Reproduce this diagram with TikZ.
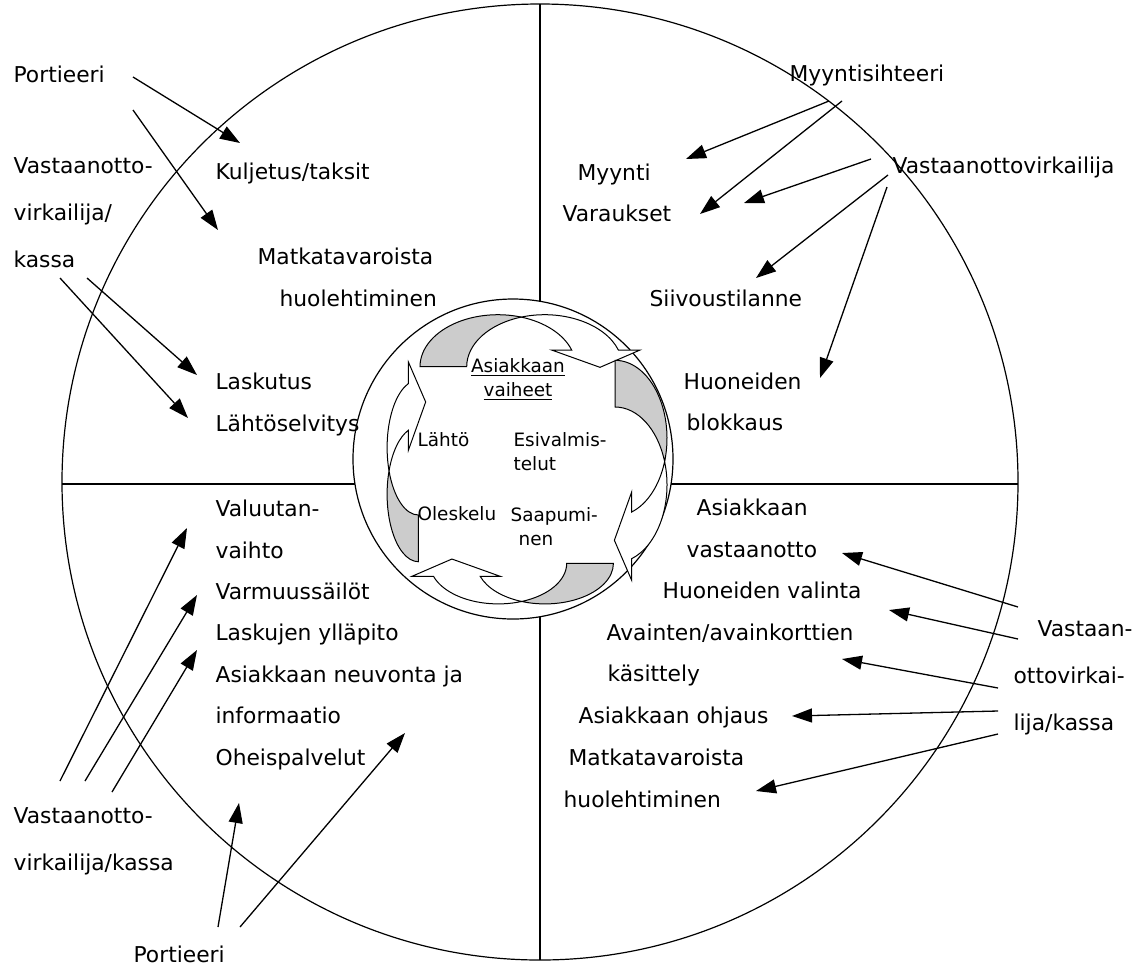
\documentclass[tikz,border=0pt]{standalone}
\usepackage{fontspec}
\setmainfont{DejaVu Sans}
\usetikzlibrary{arrows.meta}

\tikzset{
  lbl/.style={font=\fontsize{10.9}{20.8}\selectfont, inner sep=0pt, anchor=base west, align=left},
  stage/.style={font=\fontsize{9.2}{11.8}\selectfont, inner sep=0pt, anchor=base west, align=left},
  arr/.style={-{Triangle[length=10pt,width=7pt]}, line width=0.65pt},
  ribbon/.style={line width=0.5pt},
}

\begin{document}
\begin{tikzpicture}[x=0.5pt, y=-0.5pt, line width=0.6pt]
  \useasboundingbox (0,0) rectangle (1140,965);

  % outer circle, quarters and inner circle
  \draw (540,482) circle[radius=478];
  \draw (513,459) circle[radius=160];
  \draw (540,4) -- (540,301);
  \draw (540,617) -- (540,960);
  \draw (62,484) -- (355,484);
  \draw (671,484) -- (1018,484);

  % cycle of the four stages: rotation / centre y / x radius / y radius
  \foreach \r/\cy/\arx/\ary in {0/465/77.9/52, -90/457/77.9/52, -180/465/68.4/40.6, -270/465/67.5/31.3} {
    \pgfmathsetmacro\apang{acos(23.35/\arx)}
    \pgfmathsetmacro\apx{-96.7+\arx+23.35}
    \pgfmathsetmacro\apy{-98.3-\ary*sin(\apang)}
    \begin{scope}[shift={(516.7,\cy)}, rotate=\r, ribbon]
      \filldraw[fill=black!20] (-96.7,-98.3)
        arc[start angle=180, end angle=360-\apang, x radius=\arx, y radius=\ary]
        arc[start angle=180+\apang, end angle=180, x radius=\arx, y radius=\ary] -- cycle;
      \filldraw[fill=white] (\apx,\apy)
        arc[start angle=360-\apang, end angle=341.3, x radius=\arx, y radius=\ary]
        -- ++(-20,0) -- ++(48.3,17.3) -- ++(40,-17.3) -- ++(-21.6,0)
        arc[start angle=341.3, end angle=180+\apang, x radius=\arx, y radius=\ary] -- cycle;
    \end{scope}
  }

  % stage labels (multi-line nodes sit on their last line)
  \node[stage, anchor=base, align=center] (vaiheet) at (518,396) {\underline{Asiakkaan}\\\underline{vaiheet}};
  \node[stage] (lahto) at (417,446) {Lähtö};
  \node[stage] (esival) at (513,470) {Esivalmis-\\telut};
  \node[stage] (oleskelu) at (417,520) {Oleskelu};
  \node[stage] (saapu) at (510,545) {Saapumi-\\\hspace*{4pt}nen};

  % upper left quarter
  \node[lbl] (portTL) at (13,82) {Portieeri};
  \node[lbl, font=\fontsize{10.9}{23.5}\selectfont] (vastTL) at (13,267) {Vastaanotto-\\virkailija/\\kassa};
  \node[lbl] (kuljetus) at (215,179) {Kuljetus/taksit};
  \node[lbl] (matkaTL) at (257,306) {Matkatavaroista\\\hspace*{11pt}huolehtiminen};
  \node[lbl] (lasku) at (215,431) {Laskutus\\Lähtöselvitys};

  % upper right quarter
  \node[lbl] (myyntisiht) at (789,81) {Myyntisihteeri};
  \node[lbl] (vastTR) at (892,173) {Vastaanottovirkailija};
  \node[lbl] (myynti) at (577,180) {Myynti};
  \node[lbl] (varaukset) at (562,221) {Varaukset};
  \node[lbl] (siivous) at (649,306) {Siivoustilanne};
  \node[lbl, font=\fontsize{10.9}{20.3}\selectfont] (blokkaus) at (683,430) {Huoneiden\\\hspace*{1.5pt}blokkaus};

  % lower left quarter
  \node[lbl, font=\fontsize{10.9}{20.7}\selectfont] (palvelut) at (215,765)
    {Valuutan-\\vaihto\\Varmuussäilöt\\Laskujen ylläpito\\Asiakkaan neuvonta ja\\informaatio\\Oheispalvelut};
  \node[lbl, font=\fontsize{10.9}{23.5}\selectfont] (vastBL) at (13,870) {Vastaanotto-\\virkailija/kassa};
  \node[lbl] (portBL) at (133,962) {Portieeri};

  % lower right quarter
  \node[lbl] (vastaanotto1) at (696,515) {Asiakkaan};
  \node[lbl] (vastaanotto2) at (686,557) {vastaanotto};
  \node[lbl] (valinta) at (662,598) {Huoneiden valinta};
  \node[lbl] (avain1) at (606,640) {Avainten/avainkorttien};
  \node[lbl] (avain2) at (607,681) {käsittely};
  \node[lbl] (ohjaus) at (578,723) {Asiakkaan ohjaus};
  \node[lbl] (matkaBR1) at (568,765) {Matkatavaroista};
  \node[lbl] (matkaBR2) at (563,807) {huolehtiminen};
  \node[lbl, font=\fontsize{10.9}{23.3}\selectfont] (vastBR) at (1013,730) {\hspace*{12pt}Vastaan-\\ottovirkai-\\lija/kassa};

  % arrow ends
  \coordinate (portTLa) at (133,77);  \coordinate (kuljetusIn) at (240,143);
  \coordinate (portTLb) at (133,110); \coordinate (matkaTLIn) at (218,230);
  \coordinate (kassaA) at (87,278);   \coordinate (laskuIn) at (197,375);
  \coordinate (kassaB) at (60,278);   \coordinate (lahtoIn) at (188,418);
  \coordinate (myyA) at (829,101);    \coordinate (myyntiIn) at (686,159);
  \coordinate (myyB) at (842,101);    \coordinate (varauksetIn) at (700,214);
  \coordinate (vastA) at (871,159);   \coordinate (varauksetIn2) at (744,203);
  \coordinate (vastB) at (888,175);   \coordinate (siivousIn) at (756,278);
  \coordinate (vastC) at (887,187);   \coordinate (blokkausIn) at (820,378);
  \coordinate (kassaC) at (1018,607); \coordinate (vastaanottoIn) at (842,553);
  \coordinate (kassaD) at (1018,639); \coordinate (valintaIn) at (889,610);
  \coordinate (kassaE) at (998,688);  \coordinate (avainIn) at (842,659);
  \coordinate (kassaF) at (998,711);  \coordinate (ohjausIn) at (792,716);
  \coordinate (kassaG) at (998,734);  \coordinate (matkaBRIn) at (756,791);
  \coordinate (vastD) at (60,781);    \coordinate (valuuttaIn) at (187,528);
  \coordinate (vastE) at (85,781);    \coordinate (varmuusIn) at (197,595);
  \coordinate (vastF) at (112,792);   \coordinate (laskujenIn) at (197,650);
  \coordinate (portBLa) at (218,927); \coordinate (oheisIn) at (239,803);
  \coordinate (portBLb) at (240,927); \coordinate (neuvontaIn) at (405,733);

  % arrows
  \draw[arr] (portTLa) -- (kuljetusIn);
  \draw[arr] (portTLb) -- (matkaTLIn);
  \draw[arr] (kassaA) -- (laskuIn);
  \draw[arr] (kassaB) -- (lahtoIn);
  \draw[arr] (myyA) -- (myyntiIn);
  \draw[arr] (myyB) -- (varauksetIn);
  \draw[arr] (vastA) -- (varauksetIn2);
  \draw[arr] (vastB) -- (siivousIn);
  \draw[arr] (vastC) -- (blokkausIn);
  \draw[arr] (kassaC) -- (vastaanottoIn);
  \draw[arr] (kassaD) -- (valintaIn);
  \draw[arr] (kassaE) -- (avainIn);
  \draw[arr] (kassaF) -- (ohjausIn);
  \draw[arr] (kassaG) -- (matkaBRIn);
  \draw[arr] (vastD) -- (valuuttaIn);
  \draw[arr] (vastE) -- (varmuusIn);
  \draw[arr] (vastF) -- (laskujenIn);
  \draw[arr] (portBLa) -- (oheisIn);
  \draw[arr] (portBLb) -- (neuvontaIn);
\end{tikzpicture}
\end{document}
